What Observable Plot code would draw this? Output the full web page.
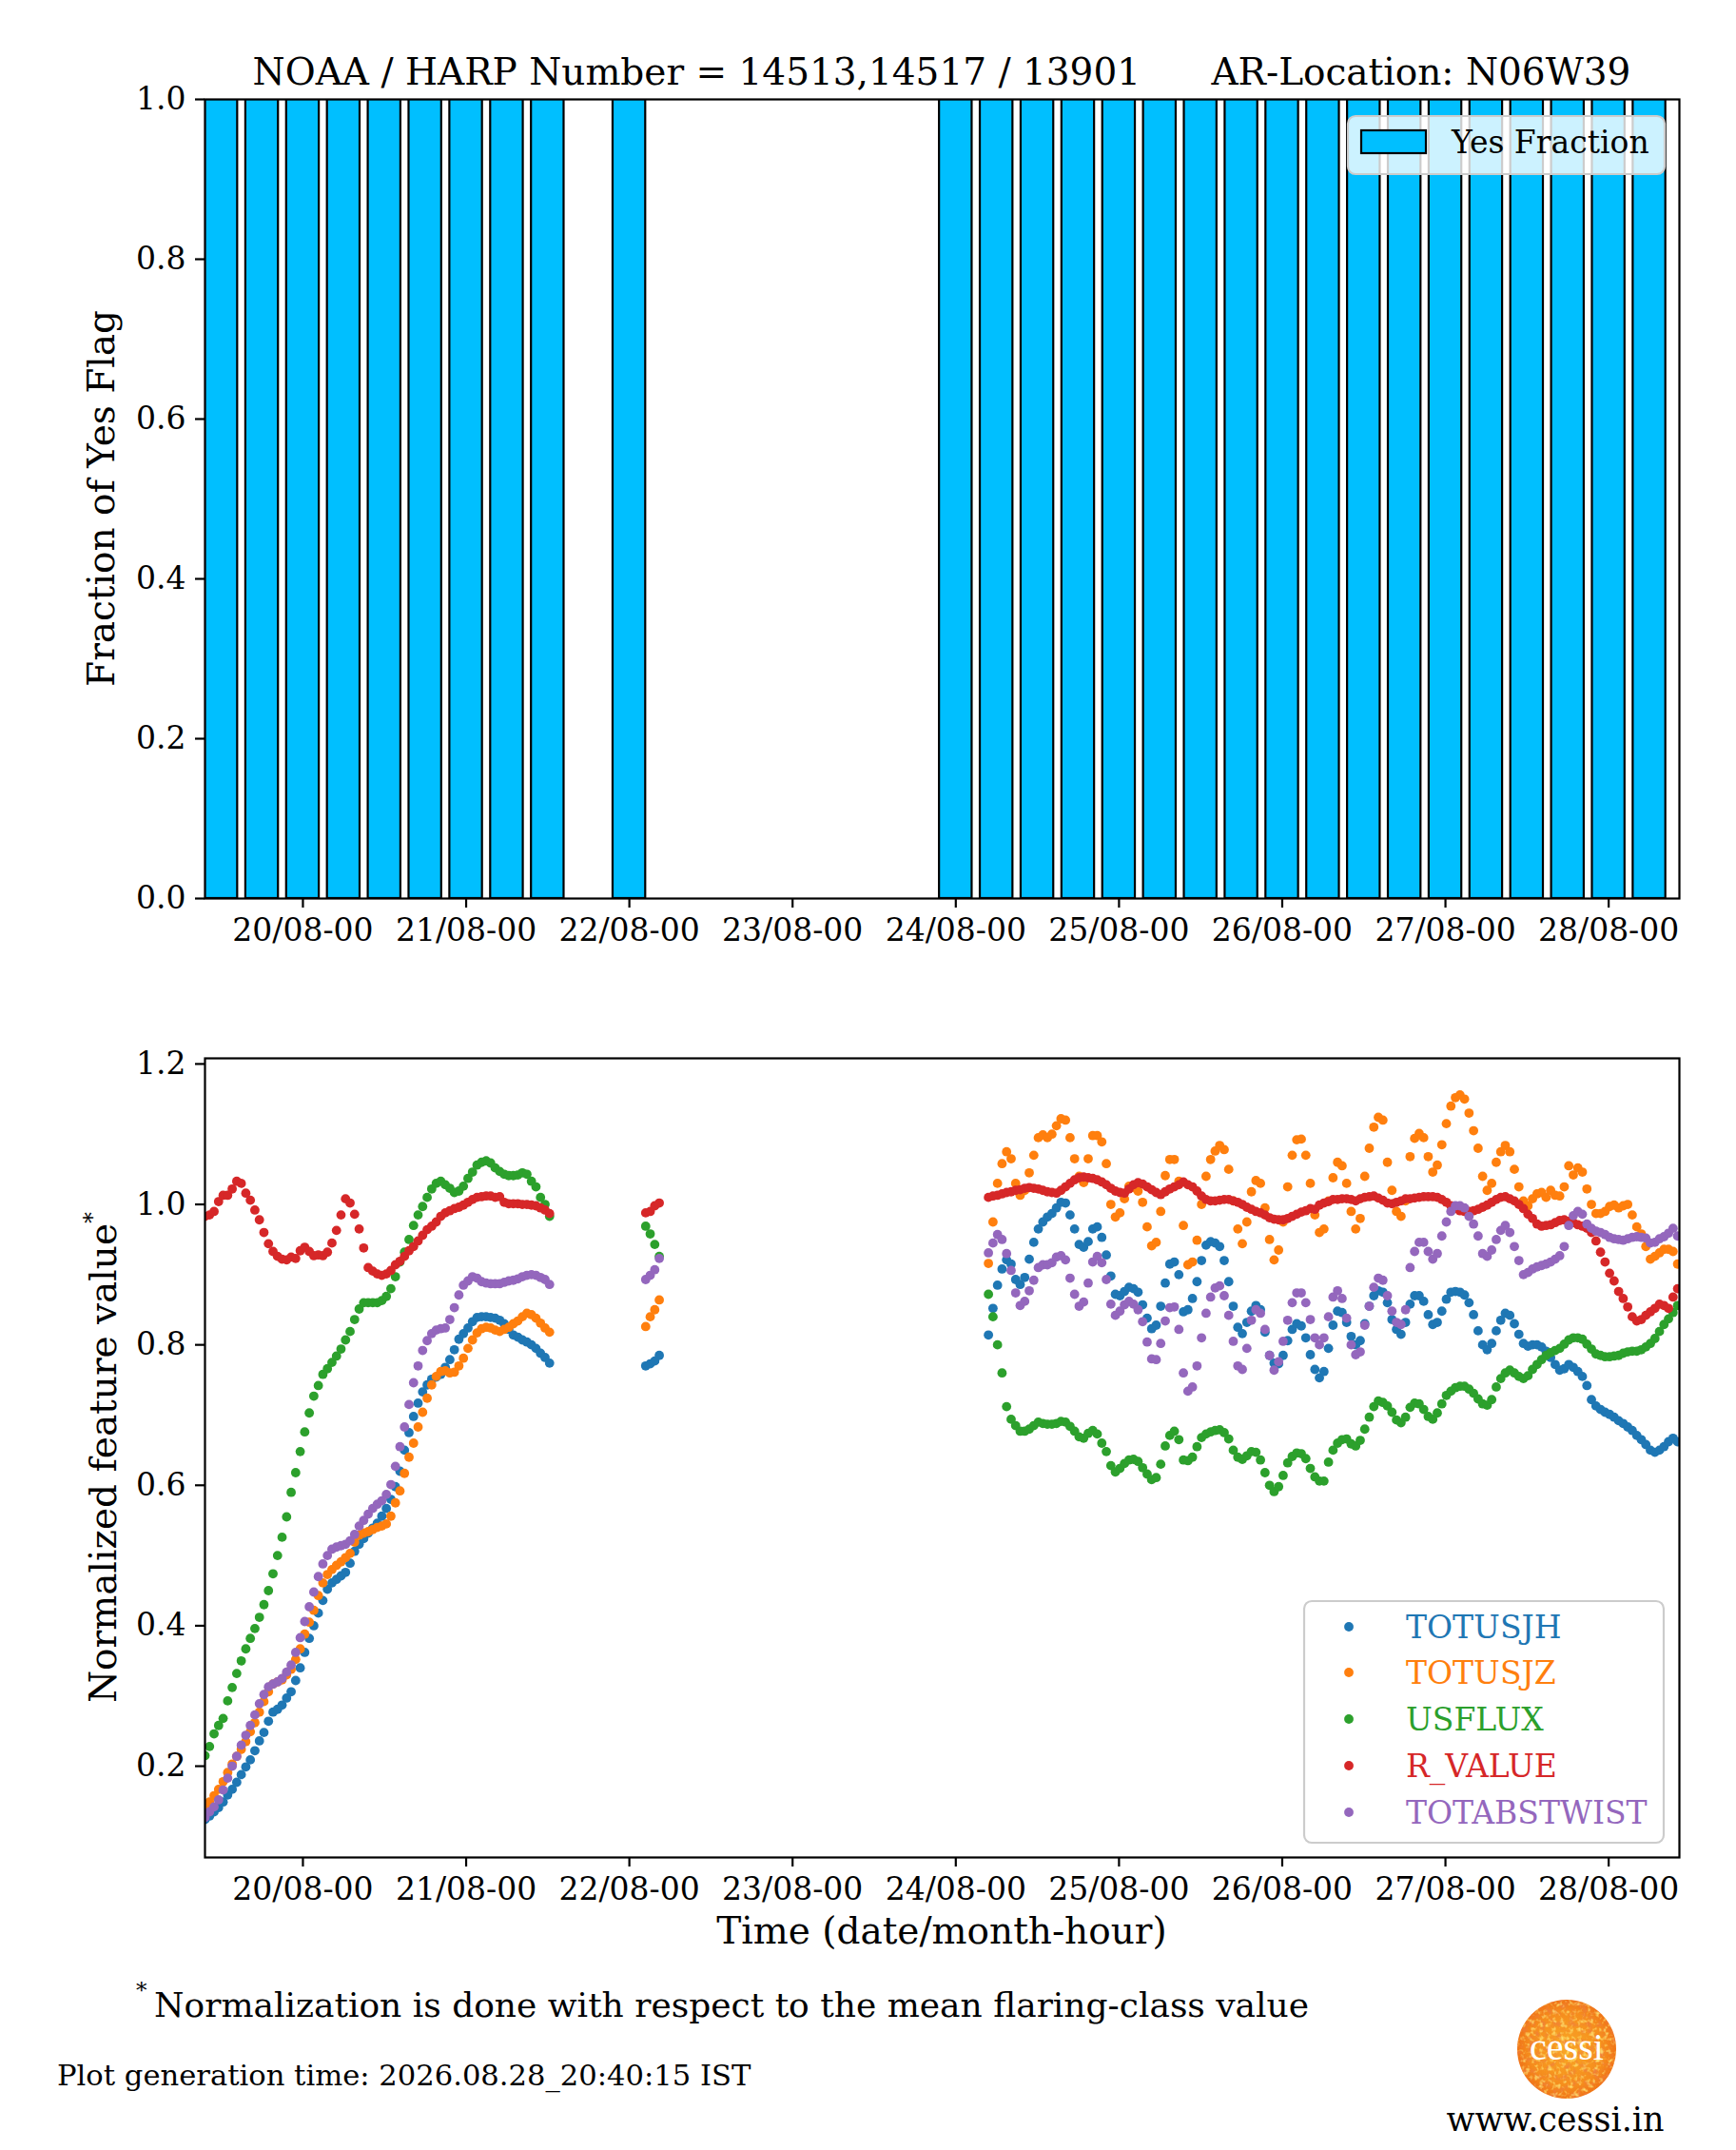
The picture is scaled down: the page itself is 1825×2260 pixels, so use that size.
<!DOCTYPE html>
<html><head><meta charset="utf-8">
<script src="https://cdn.jsdelivr.net/npm/d3@7"></script>
<script src="https://cdn.jsdelivr.net/npm/@observablehq/plot@0.6"></script>
<style>
body{margin:0;background:#fff;}
#fig{position:relative;width:1825px;height:2260px;background:#fff;font-family:"DejaVu Serif",serif;overflow:hidden;}
#fig > svg{position:absolute;left:0;}
</style></head><body><div id="fig"></div>
<script>
// ---------- DATA ----------
const seriesNames = ["TOTUSJH","TOTUSJZ","USFLUX","R_VALUE","TOTABSTWIST"];
const seriesColors = ["#1f77b4","#ff7f0e","#2ca02c","#d62728","#9467bd"];
const segmentStarts = ["2026-08-19T09:36Z","2026-08-22T02:24Z","2026-08-24T04:48Z"];
const cadenceMinutes = 40;
const xDomainLabels = ["2026-08-19T09:36Z","2026-08-28T10:24Z"];
const xTickLabels = ["2026-08-20T00:00Z","2026-08-21T00:00Z","2026-08-22T00:00Z","2026-08-23T00:00Z","2026-08-24T00:00Z","2026-08-25T00:00Z","2026-08-26T00:00Z","2026-08-27T00:00Z","2026-08-28T00:00Z"];
const yTicksTop = [0,0.2,0.4,0.6,0.8,1.0];
const yTicksBottom = [0.2,0.4,0.6,0.8,1.0,1.2];

// Yes-fraction bars (6-hour bins, centre time)
const barTimes = ["2026-08-19T12:00Z","2026-08-19T18:00Z","2026-08-20T00:00Z","2026-08-20T06:00Z","2026-08-20T12:00Z","2026-08-20T18:00Z","2026-08-21T00:00Z","2026-08-21T06:00Z","2026-08-21T12:00Z","2026-08-22T00:00Z",
"2026-08-24T00:00Z","2026-08-24T06:00Z","2026-08-24T12:00Z","2026-08-24T18:00Z","2026-08-25T00:00Z","2026-08-25T06:00Z","2026-08-25T12:00Z","2026-08-25T18:00Z","2026-08-26T00:00Z","2026-08-26T06:00Z","2026-08-26T12:00Z","2026-08-26T18:00Z","2026-08-27T00:00Z","2026-08-27T06:00Z","2026-08-27T12:00Z","2026-08-27T18:00Z","2026-08-28T00:00Z","2026-08-28T06:00Z"];
const yesFraction = [1,1,1,1,1,1,1,1,1,1, 1,1,1,1,1,1,1,1,1,1,1,1,1,1,1,1,1,1];
const barWidthHours = 4.8;

// Segment 1 (19/08 09:36 onward)
const totusjh1 = [0.124,0.129,0.135,0.141,0.149,0.159,0.167,0.177,0.188,0.199,
0.209,0.222,0.236,0.248,0.264,0.277,0.281,0.287,0.297,0.306,
0.322,0.340,0.362,0.382,0.400,0.418,0.436,0.452,0.461,0.466,
0.471,0.476,0.489,0.506,0.516,0.524,0.532,0.539,0.546,0.556,
0.567,0.580,0.598,0.620,0.650,0.675,0.698,0.717,0.733,0.743,
0.751,0.754,0.758,0.768,0.779,0.793,0.808,0.816,0.824,0.833,
0.839,0.840,0.840,0.839,0.838,0.835,0.830,0.822,0.814,0.811,
0.807,0.804,0.800,0.795,0.788,0.782,0.774];
const totusjz1 = [0.142,0.149,0.158,0.167,0.178,0.191,0.203,0.214,0.224,0.235,
0.249,0.262,0.277,0.292,0.306,0.317,0.320,0.323,0.330,0.338,
0.352,0.367,0.388,0.405,0.422,0.443,0.461,0.473,0.480,0.486,
0.491,0.497,0.503,0.519,0.529,0.532,0.534,0.537,0.540,0.542,
0.545,0.556,0.575,0.592,0.617,0.640,0.660,0.683,0.704,0.724,
0.743,0.755,0.762,0.763,0.760,0.761,0.770,0.781,0.795,0.807,
0.817,0.823,0.825,0.824,0.821,0.819,0.822,0.825,0.830,0.834,
0.840,0.845,0.843,0.838,0.831,0.824,0.818];
const usflux1 = [0.215,0.228,0.246,0.258,0.268,0.293,0.312,0.332,0.350,0.367,
0.382,0.396,0.412,0.430,0.450,0.474,0.500,0.526,0.555,0.590,
0.618,0.648,0.676,0.703,0.727,0.742,0.758,0.766,0.775,0.784,
0.794,0.807,0.819,0.836,0.851,0.860,0.860,0.860,0.860,0.863,
0.869,0.880,0.897,0.918,0.932,0.950,0.970,0.985,0.997,1.010,
1.022,1.030,1.033,1.028,1.023,1.017,1.019,1.026,1.037,1.046,
1.056,1.060,1.062,1.059,1.052,1.047,1.043,1.041,1.041,1.042,
1.045,1.043,1.033,1.025,1.010,1.000,0.983];
const rvalue1 = [0.983,0.985,0.990,1.004,1.013,1.013,1.022,1.033,1.030,1.016,
1.006,0.992,0.978,0.960,0.944,0.933,0.926,0.922,0.921,0.925,
0.923,0.934,0.939,0.933,0.927,0.928,0.927,0.932,0.945,0.963,
0.985,1.008,1.002,0.986,0.965,0.938,0.910,0.905,0.901,0.899,
0.901,0.906,0.914,0.919,0.926,0.934,0.940,0.948,0.956,0.964,
0.969,0.975,0.983,0.988,0.991,0.994,0.996,0.999,1.003,1.007,
1.010,1.011,1.012,1.012,1.010,1.011,1.003,1.001,1.001,1.001,
1.000,1.000,0.999,0.998,0.995,0.992,0.987];
const totabstwist1 = [0.127,0.135,0.142,0.152,0.166,0.183,0.200,0.214,0.230,0.244,
0.258,0.273,0.289,0.302,0.313,0.317,0.320,0.325,0.334,0.344,
0.362,0.383,0.406,0.427,0.448,0.470,0.488,0.500,0.509,0.512,
0.514,0.516,0.521,0.530,0.542,0.550,0.559,0.567,0.573,0.578,
0.587,0.601,0.627,0.655,0.683,0.715,0.746,0.770,0.792,0.806,
0.816,0.821,0.823,0.824,0.836,0.853,0.871,0.885,0.891,0.897,
0.895,0.890,0.888,0.887,0.887,0.887,0.889,0.891,0.892,0.894,
0.897,0.899,0.900,0.899,0.896,0.893,0.886];

// Segment 2 (22/08 02:24 onward)
const totusjh2 = [0.770,0.773,0.777,0.785];
const totusjz2 = [0.826,0.840,0.850,0.864];
const usflux2 = [0.969,0.958,0.943,0.926];
const rvalue2 = [0.988,0.990,0.998,1.002];
const totabstwist2 = [0.893,0.899,0.907,0.923];

// Segment 3 (24/08 04:48 onward)
const totusjh3 = [0.814,0.852,0.885,0.908,0.921,0.915,0.893,0.886,0.896,0.922,
0.946,0.965,0.975,0.982,0.987,0.995,1.003,1.002,0.985,0.965,
0.943,0.939,0.947,0.965,0.968,0.953,0.928,0.898,0.872,0.870,
0.876,0.882,0.880,0.875,0.857,0.838,0.823,0.828,0.855,0.888,
0.915,0.918,0.900,0.847,0.850,0.866,0.890,0.920,0.942,0.947,
0.945,0.940,0.920,0.890,0.855,0.825,0.816,0.832,0.848,0.856,
0.850,0.818,0.785,0.774,0.773,0.785,0.806,0.822,0.830,0.827,
0.810,0.786,0.765,0.753,0.762,0.795,0.828,0.848,0.846,0.832,
0.812,0.800,0.806,0.830,0.855,0.870,0.877,0.875,0.860,0.836,
0.822,0.815,0.832,0.858,0.870,0.870,0.862,0.843,0.829,0.832,
0.848,0.865,0.875,0.876,0.875,0.871,0.860,0.843,0.820,0.800,
0.793,0.802,0.820,0.835,0.845,0.842,0.830,0.815,0.802,0.798,
0.800,0.800,0.797,0.791,0.782,0.772,0.764,0.766,0.772,0.768,
0.762,0.755,0.742,0.722,0.713,0.708,0.704,0.701,0.697,0.692,
0.688,0.683,0.678,0.671,0.665,0.658,0.650,0.647,0.650,0.655,
0.662,0.667,0.662];
const totusjz3 = [0.916,0.975,1.030,1.058,1.075,1.065,1.030,1.013,1.020,1.045,
1.070,1.095,1.099,1.095,1.100,1.112,1.122,1.120,1.095,1.065,
1.040,1.031,1.065,1.098,1.098,1.089,1.058,1.000,0.982,0.988,
1.008,1.026,1.024,1.019,1.003,0.968,0.941,0.946,0.990,1.041,
1.064,1.064,1.033,0.970,0.914,0.918,0.949,1.000,1.040,1.064,
1.076,1.084,1.078,1.050,1.005,0.965,0.944,0.975,1.018,1.034,
1.030,0.995,0.950,0.921,0.935,0.975,1.025,1.070,1.092,1.093,
1.070,1.030,0.985,0.960,0.965,1.005,1.038,1.060,1.055,1.030,
0.990,0.965,0.980,1.040,1.080,1.110,1.124,1.120,1.060,1.020,
0.990,0.983,1.005,1.068,1.094,1.101,1.095,1.068,1.046,1.056,
1.085,1.115,1.140,1.152,1.156,1.150,1.130,1.105,1.080,1.040,
1.020,1.030,1.060,1.075,1.084,1.075,1.050,1.025,1.005,0.998,
1.008,1.015,1.017,1.010,1.020,1.013,1.012,1.025,1.055,1.042,
1.052,1.046,1.022,1.000,0.987,0.987,0.990,0.997,0.999,0.995,
0.998,1.000,0.985,0.968,0.958,0.940,0.922,0.926,0.931,0.936,
0.936,0.933,0.915];
const usflux3 = [0.872,0.840,0.800,0.760,0.712,0.694,0.685,0.677,0.677,0.680,
0.685,0.690,0.688,0.687,0.687,0.688,0.691,0.690,0.684,0.677,
0.669,0.667,0.674,0.678,0.673,0.660,0.648,0.628,0.619,0.624,
0.631,0.636,0.637,0.634,0.625,0.616,0.608,0.611,0.630,0.656,
0.671,0.677,0.665,0.636,0.635,0.640,0.655,0.668,0.673,0.676,
0.678,0.679,0.675,0.666,0.650,0.640,0.637,0.642,0.648,0.647,
0.636,0.618,0.600,0.591,0.598,0.614,0.632,0.641,0.646,0.645,
0.638,0.624,0.612,0.606,0.606,0.633,0.650,0.660,0.665,0.666,
0.659,0.656,0.664,0.680,0.697,0.712,0.720,0.718,0.713,0.704,
0.693,0.689,0.697,0.711,0.717,0.716,0.708,0.698,0.694,0.703,
0.716,0.728,0.734,0.739,0.741,0.741,0.737,0.731,0.723,0.716,
0.714,0.722,0.740,0.752,0.760,0.764,0.760,0.755,0.752,0.756,
0.765,0.772,0.779,0.785,0.789,0.792,0.795,0.801,0.807,0.810,
0.810,0.808,0.801,0.794,0.787,0.785,0.783,0.783,0.784,0.785,
0.788,0.790,0.791,0.791,0.793,0.797,0.802,0.809,0.819,0.829,
0.837,0.846,0.856];
const rvalue3 = [1.010,1.012,1.013,1.015,1.017,1.018,1.020,1.021,1.023,1.024,
1.023,1.022,1.020,1.018,1.017,1.016,1.020,1.025,1.030,1.035,
1.038,1.039,1.038,1.037,1.035,1.032,1.028,1.023,1.019,1.017,
1.016,1.022,1.028,1.031,1.029,1.025,1.021,1.017,1.014,1.018,
1.022,1.025,1.028,1.032,1.028,1.025,1.019,1.012,1.007,1.005,
1.005,1.006,1.007,1.007,1.005,1.003,1.000,0.996,0.993,0.990,
0.988,0.985,0.981,0.979,0.978,0.978,0.980,0.983,0.986,0.989,
0.991,0.994,0.993,0.999,1.002,1.004,1.007,1.007,1.008,1.008,
1.007,1.005,1.008,1.010,1.011,1.012,1.009,1.006,1.002,1.001,
1.003,1.005,1.008,1.008,1.009,1.010,1.011,1.011,1.011,1.010,
1.007,1.003,0.998,0.994,0.991,0.990,0.990,0.991,0.993,0.996,
0.999,1.003,1.007,1.010,1.011,1.008,1.005,1.000,0.994,0.986,
0.980,0.972,0.969,0.970,0.971,0.974,0.977,0.978,0.976,0.974,
0.971,0.969,0.966,0.960,0.948,0.932,0.918,0.902,0.891,0.876,
0.866,0.854,0.840,0.834,0.836,0.842,0.847,0.852,0.858,0.856,
0.852,0.868,0.880];
const totabstwist3 = [0.931,0.945,0.957,0.950,0.930,0.906,0.874,0.856,0.862,0.877,
0.892,0.910,0.914,0.914,0.917,0.925,0.927,0.921,0.895,0.872,
0.855,0.861,0.888,0.918,0.926,0.917,0.893,0.858,0.842,0.848,
0.857,0.862,0.858,0.850,0.833,0.804,0.780,0.779,0.802,0.834,
0.853,0.854,0.822,0.760,0.734,0.740,0.770,0.810,0.845,0.868,
0.881,0.884,0.870,0.842,0.805,0.770,0.765,0.795,0.835,0.850,
0.845,0.822,0.785,0.764,0.776,0.805,0.835,0.860,0.874,0.874,
0.860,0.836,0.810,0.800,0.810,0.840,0.868,0.877,0.866,0.838,
0.800,0.786,0.790,0.828,0.855,0.882,0.895,0.892,0.870,0.848,
0.832,0.829,0.850,0.910,0.933,0.946,0.946,0.933,0.922,0.930,
0.955,0.975,0.990,0.998,0.998,0.995,0.983,0.972,0.955,0.930,
0.926,0.935,0.950,0.963,0.970,0.960,0.940,0.920,0.900,0.903,
0.908,0.911,0.913,0.915,0.918,0.922,0.927,0.940,0.970,0.984,
0.990,0.986,0.972,0.966,0.962,0.960,0.957,0.953,0.951,0.950,
0.949,0.951,0.953,0.954,0.953,0.952,0.945,0.946,0.951,0.954,
0.959,0.966,0.955];

// ---------- BUILD TABLES ----------
const stepMs = cadenceMinutes * 60000;
function toRows(values, start) {
  const t0 = Date.parse(start);
  return values.map((v, i) => ({t: new Date(t0 + i * stepMs), v}));
}
const seriesSegments = [
  [totusjh1, totusjh2, totusjh3],
  [totusjz1, totusjz2, totusjz3],
  [usflux1, usflux2, usflux3],
  [rvalue1, rvalue2, rvalue3],
  [totabstwist1, totabstwist2, totabstwist3]
];
const seriesRows = seriesSegments.map(segs => segs.flatMap((vals, s) => toRows(vals, segmentStarts[s])));
const bars = barTimes.map((t, i) => ({t: new Date(t), v: yesFraction[i]}));
const halfBar = barWidthHours * 3600000 / 2;
const xDomain = xDomainLabels.map(d => new Date(d));
const xTicks = xTickLabels.map(d => new Date(d));
const fmtX = d3.utcFormat("%d/%m-%H");
const fmtY = d3.format(".1f");

const baseStyle = {fontFamily: '"DejaVu Serif", serif', fontSize: "33px", background: "transparent", color: "black", overflow: "visible"};
const fig = document.getElementById("fig");

// ---------- TOP PANEL ----------
const topChart = Plot.plot({
  width: 1825, height: 1004,
  marginTop: 104, marginBottom: 60, marginLeft: 215, marginRight: 60,
  style: baseStyle,
  x: {type: "utc", domain: xDomain},
  y: {domain: [0, 1]},
  marks: [
    Plot.rect(bars, {x1: d => new Date(+d.t - halfBar), x2: d => new Date(+d.t + halfBar), y1: d => 0, y2: "v", fill: "#00bfff", stroke: "black", strokeWidth: 2.2, clip: true}),
    Plot.frame({stroke: "black", strokeWidth: 2.2}),
    Plot.axisX({ticks: xTicks, tickFormat: fmtX, tickSize: 10, tickPadding: 11, label: null, strokeWidth: 2.2}),
    Plot.axisY({ticks: yTicksTop, tickFormat: fmtY, tickSize: 10, tickPadding: 10, label: null, strokeWidth: 2.2})
  ]
});
topChart.style.top = "0px";
fig.appendChild(topChart);

// ---------- BOTTOM PANEL ----------
const bottomChart = Plot.plot({
  width: 1825, height: 962,
  marginTop: 62, marginBottom: 60, marginLeft: 215, marginRight: 60,
  style: baseStyle,
  x: {type: "utc", domain: xDomain},
  y: {domain: [0.070, 1.208]},
  marks: [
    ...seriesRows.map((rows, k) => Plot.dot(rows, {x: "t", y: "v", r: 4.9, fill: seriesColors[k], stroke: "none", clip: true})),
    Plot.frame({stroke: "black", strokeWidth: 2.2}),
    Plot.axisX({ticks: xTicks, tickFormat: fmtX, tickSize: 10, tickPadding: 11, label: null, strokeWidth: 2.2}),
    Plot.axisY({ticks: yTicksBottom, tickFormat: fmtY, tickSize: 10, tickPadding: 10, label: null, strokeWidth: 2.2})
  ]
});
bottomChart.style.top = "1050px";
fig.appendChild(bottomChart);

// ---------- TEXT, LEGENDS, LOGO ----------
const legendRows = [1710, 1758, 1807, 1856, 1905];
const legendItems = seriesNames.map((n, k) =>
  `<circle cx="1418" cy="${legendRows[k]}" r="4.9" fill="${seriesColors[k]}"/>` +
  `<text x="1478" y="${legendRows[k] + 12}" fill="${seriesColors[k]}" font-size="33">${n}</text>`).join("");

const overlay = `
<svg xmlns="http://www.w3.org/2000/svg" width="1825" height="2260" style="top:0;pointer-events:none;font-family:'DejaVu Serif',serif;">
 <defs>
  <radialGradient id="sunGrad" cx="50%" cy="50%" r="55%">
   <stop offset="0" stop-color="#f9a825"/>
   <stop offset="0.7" stop-color="#f58c1c"/>
   <stop offset="1" stop-color="#ee6a14"/>
  </radialGradient>
  <filter id="redSpots" x="0" y="0" width="100%" height="100%">
   <feTurbulence type="fractalNoise" baseFrequency="0.16" numOctaves="3" seed="7" result="n"/>
   <feColorMatrix in="n" type="matrix" values="0 0 0 0 0.86  0 0 0 0 0.2  0 0 0 0 0.05  0 0 0 2.2 -1.05" result="c"/>
   <feComposite in="c" in2="SourceGraphic" operator="in"/>
  </filter>
  <filter id="yelSpots" x="0" y="0" width="100%" height="100%">
   <feTurbulence type="fractalNoise" baseFrequency="0.22" numOctaves="2" seed="19" result="n"/>
   <feColorMatrix in="n" type="matrix" values="0 0 0 0 1  0 0 0 0 0.85  0 0 0 0 0.2  0 0 0 2.4 -1.2" result="c"/>
   <feComposite in="c" in2="SourceGraphic" operator="in"/>
  </filter>
 </defs>
 <text x="990" y="89" text-anchor="middle" font-size="39" style="white-space:pre" xml:space="preserve">NOAA / HARP Number = 14513,14517 / 13901      AR-Location: N06W39</text>
 <text transform="translate(120,524) rotate(-90)" text-anchor="middle" font-size="39">Fraction of Yes Flag</text>
 <g>
  <rect x="1417" y="122" width="333" height="61" rx="8" fill="white" fill-opacity="0.8" stroke="#cccccc" stroke-width="2.2"/>
  <rect x="1431" y="137" width="68" height="24" fill="#00bfff" stroke="black" stroke-width="2.2"/>
  <text x="1526" y="161" font-size="33">Yes Fraction</text>
 </g>
 <text transform="translate(122,1532) rotate(-90)" text-anchor="middle" font-size="39">Normalized feature value<tspan font-size="24" dy="-17">*</tspan></text>
 <g>
  <rect x="1371" y="1683" width="378" height="254" rx="8" fill="white" fill-opacity="0.8" stroke="#cccccc" stroke-width="2.2"/>
  ${legendItems}
 </g>
 <text x="990" y="2043" text-anchor="middle" font-size="39">Time (date/month-hour)</text>
 <text x="143" y="2100" font-size="23">*</text>
 <text x="162" y="2120" font-size="36">Normalization is done with respect to the mean flaring-class value</text>
 <text x="60" y="2192" font-size="30.6">Plot generation time: 2026.08.28_20:40:15 IST</text>
 <circle cx="1647" cy="2154" r="52" fill="url(#sunGrad)"/>
 <circle cx="1647" cy="2154" r="52" fill="#000" filter="url(#redSpots)"/>
 <circle cx="1647" cy="2154" r="52" fill="#000" filter="url(#yelSpots)"/>
 <text x="1647" y="2165" text-anchor="middle" font-size="40" fill="white" font-family="'Liberation Serif', serif">cessi</text>
 <text x="1635" y="2240" text-anchor="middle" font-size="35">www.cessi.in</text>
</svg>`;
fig.insertAdjacentHTML("beforeend", overlay);
</script>
</body></html>
